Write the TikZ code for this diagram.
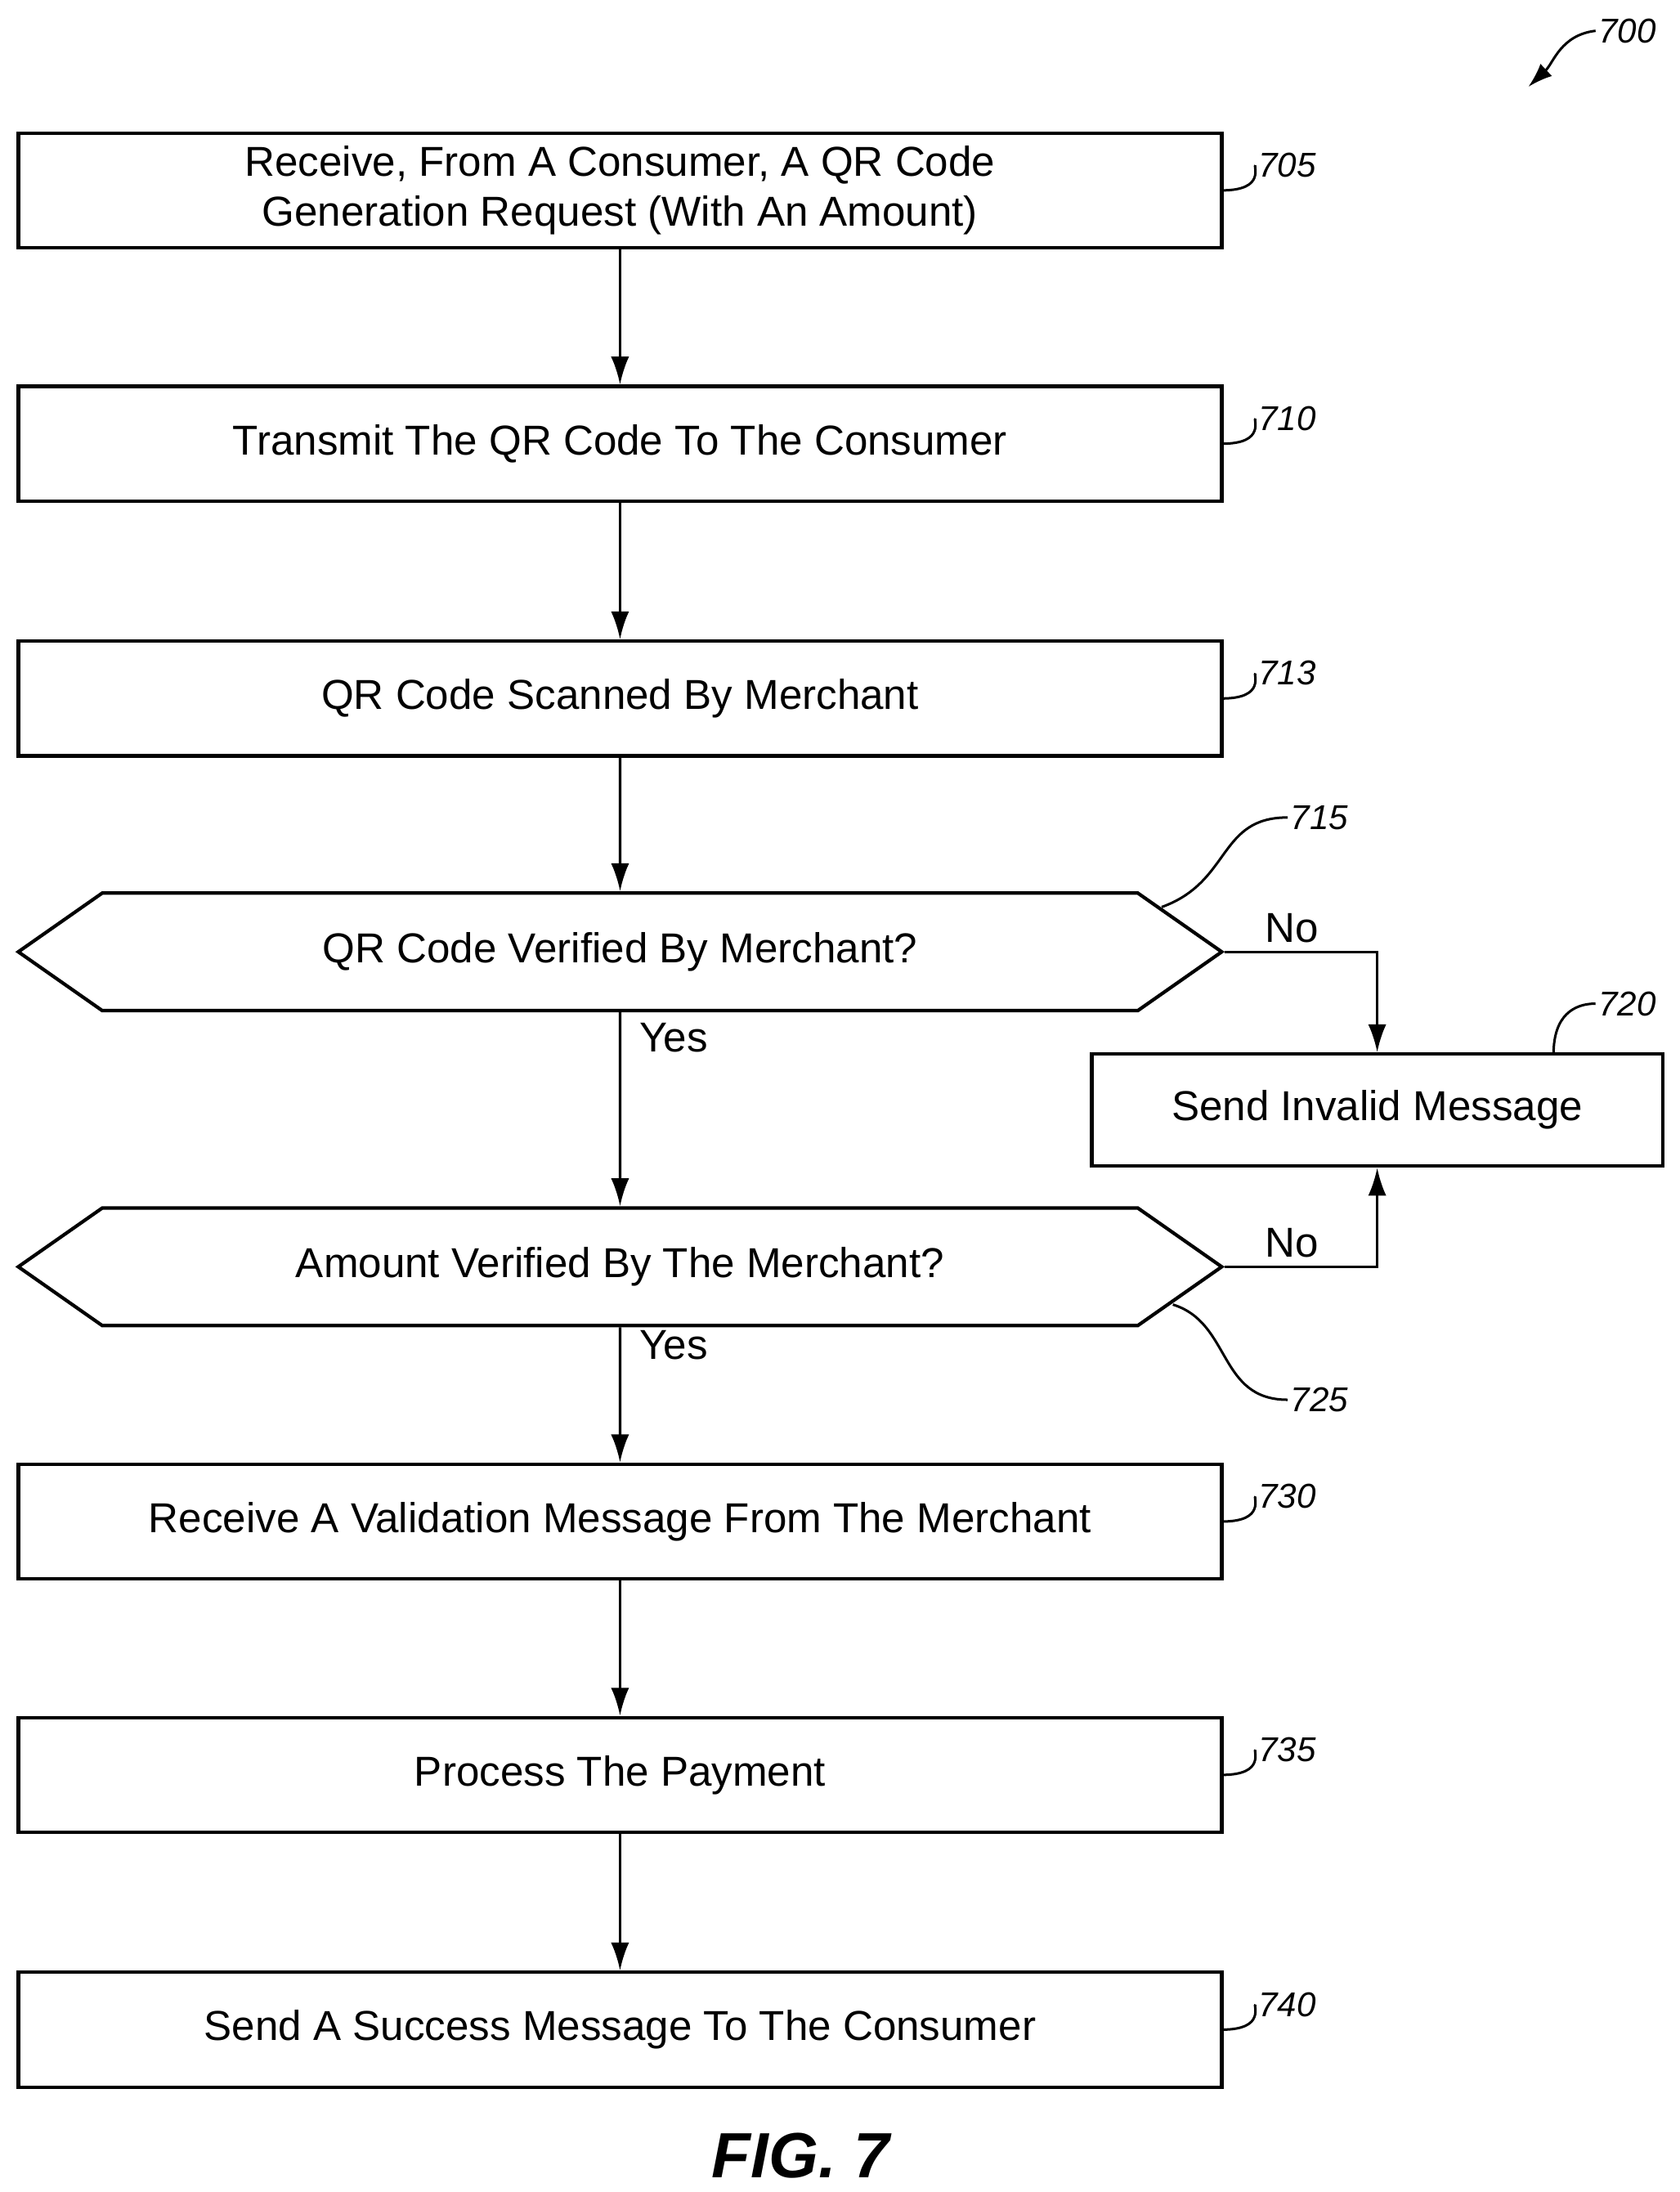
\documentclass[tikz,border=0pt]{standalone}
\usepackage{fontspec}
\setmainfont{Liberation Sans}
\usetikzlibrary{arrows.meta,shapes.symbols,positioning}
\tikzset{
  stage/.style={draw,line width=1.4pt,minimum width=17.2cm,minimum height=1.64cm,
    inner sep=0pt,font=\fontsize{17}{20}\selectfont,align=center},
  test/.style={draw,line width=1.4pt,shape=signal,signal to=east and west,
    signal pointer angle=70,minimum width=17.2cm,minimum height=1.68cm,inner sep=0pt,
    font=\fontsize{17}{20}\selectfont},
  flow/.style={line width=1.1pt,-{Latex[length=4mm,width=2.6mm]}},
  lead/.style={line width=1pt},
  tag/.style={font=\itshape\fontsize{14}{16}\selectfont,anchor=west,inner sep=1pt},
  word/.style={font=\fontsize{17}{20}\selectfont}
}
\begin{document}
\begin{tikzpicture}[x=0.02cm,y=-0.02cm]
\useasboundingbox (0,0) rectangle (1200,1566);

\node[stage] (s705) at (443,136) {Receive, From A Consumer, A QR Code\\Generation Request (With An Amount)};
\node[stage] (s710) at (443,317) {Transmit The QR Code To The Consumer};
\node[stage] (s713) at (443,499) {QR Code Scanned By Merchant};
\node[test] (d715) at (443,680) {QR Code Verified By Merchant?};
\node[test] (d725) at (443,905) {Amount Verified By The Merchant?};
\node[stage,minimum width=8.16cm,minimum height=1.6cm] (s720) at (984,793) {Send Invalid Message};
\node[stage] (s730) at (443,1087) {Receive A Validation Message From The Merchant};
\node[stage] (s735) at (443,1268) {Process The Payment};
\node[stage] (s740) at (443,1450) {Send A Success Message To The Consumer};

\draw[flow] (s705) -- (s710);
\draw[flow] (s710) -- (s713);
\draw[flow] (s713) -- (d715);
\draw[flow] (d715) -- node[word,pos=0.13,right=4pt] {Yes} (d725);
\draw[flow] (d725) -- node[word,pos=0.13,right=4pt] {Yes} (s730);
\draw[flow] (s730) -- (s735);
\draw[flow] (s735) -- (s740);
\draw[flow] (d715.east) -| node[word,pos=0.22,above] {No} (s720.north);
\draw[flow] (d725.east) -| node[word,pos=0.22,above] {No} (s720.south);

% reference numerals
\foreach \n/\y in {705/136,710/317,713/499,730/1087,735/1268,740/1450}{
  \node[tag] (t\n) at (897,\y-18) {\n};
  \draw[lead] (873,\y) .. controls (905,\y) and (895,\y-18) .. (t\n.west);
}
\node[tag] (t715) at (920,584) {715};
\draw[lead] (830,648) .. controls (880,630) and (870,584) .. (t715.west);
\node[tag] (t725) at (920,1000) {725};
\draw[lead] (838,932) .. controls (880,945) and (870,1000) .. (t725.west);
\node[tag] (t720) at (1140,717) {720};
\draw[lead] (1110,753) .. controls (1110,725) and (1125,717) .. (t720.west);
\node[tag] (t700) at (1140,22) {700};
\draw[lead,-{Latex[length=3.5mm,width=2.4mm]}] (t700.west) .. controls (1115,25) and (1110,45) .. (1092,62);

\node[font=\bfseries\itshape\fontsize{26}{30}\selectfont] (fig) at (572,1540) {FIG. 7};
\end{tikzpicture}
\end{document}
